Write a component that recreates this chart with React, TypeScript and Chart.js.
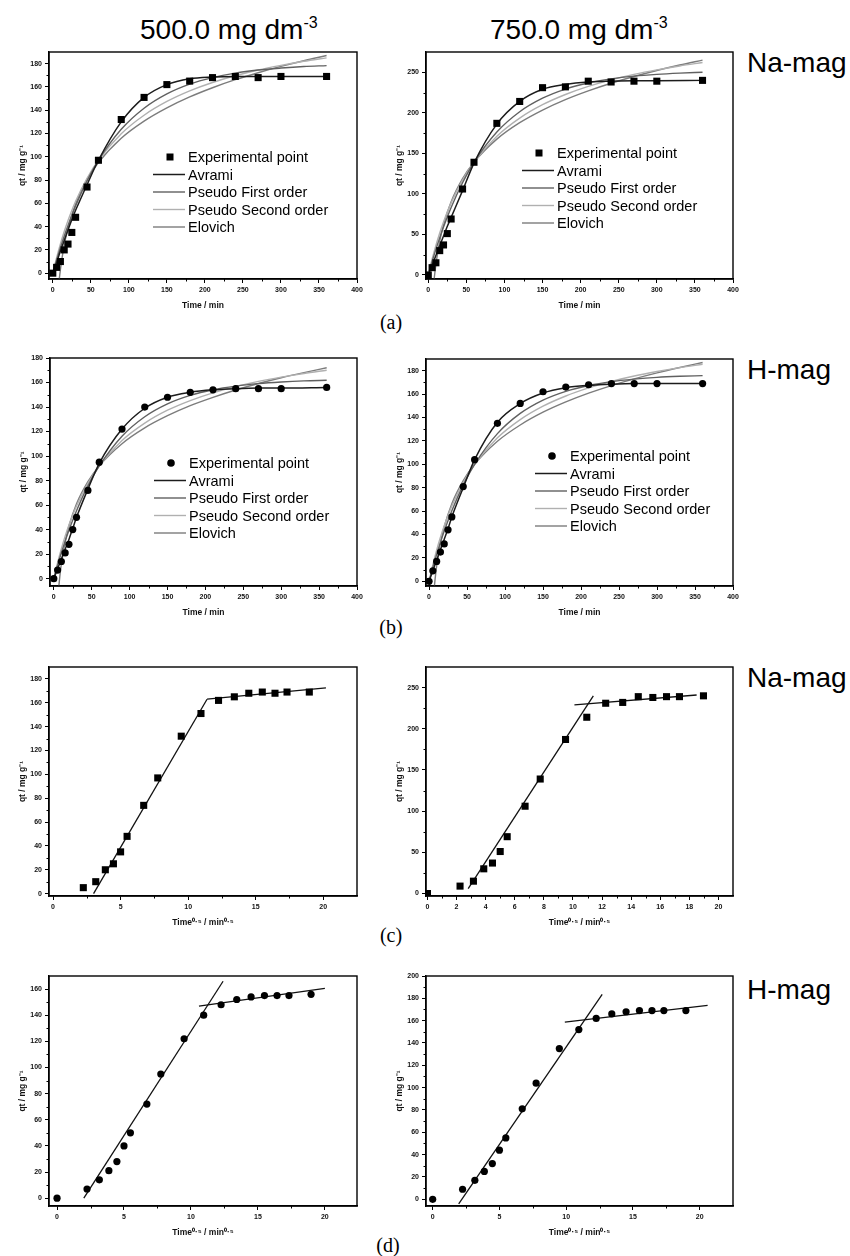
import React, { useEffect, useRef } from "react";
import { Chart, registerables } from "chart.js";

Chart.register(...registerables);

const SANS = '"Liberation Sans", Arial, Helvetica, sans-serif';
const SERIF = '"Liberation Serif", "Times New Roman", serif';

// ---------------- data ----------------
// contact time (min) and its square root (min^0.5)
const timeMin = [0, 5, 10, 15, 20, 25, 30, 45, 60, 90, 120, 150, 180, 210, 240, 270, 300, 360];
const sqrtTimeMin = [0, 2.24, 3.16, 3.87, 4.47, 5.0, 5.48, 6.71, 7.75, 9.49, 10.95, 12.25, 13.42, 14.49, 15.49, 16.43, 17.32, 18.97];

// experimental qt (mg g-1)
const expNa500 = [0, 5, 10, 20, 25, 35, 48, 74, 97, 132, 151, 162, 165, 168, 169, 168, 169, 169];
const expNa750 = [0, 9, 15, 30, 37, 51, 69, 106, 139, 187, 214, 231, 232, 239, 238, 239, 239, 240];
const expH500 = [0, 7, 14, 21, 28, 40, 50, 72, 95, 122, 140, 148, 152, 154, 155, 155, 155, 156];
const expH750 = [0, 9, 17, 25, 32, 44, 55, 81, 104, 135, 152, 162, 166, 168, 169, 169, 169, 169];

// model curves
const fitTime = [0, 5, 10, 15, 20, 30, 45, 60, 90, 120, 150, 180, 210, 240, 270, 300, 330, 360];
const elovichTime = [6.5, 8, 10, 15, 20, 30, 45, 60, 90, 120, 150, 180, 210, 240, 270, 300, 330, 360];

const avramiNa500 = [0, 9, 19, 28, 37, 46, 54, 76, 97, 130, 151, 162, 167, 168.5, 169, 169, 169, 169];
const pfoNa500 = [0, 11.2, 21.8, 31.7, 40.9, 57.8, 79.2, 97, 123.6, 141.7, 154, 162.4, 168, 171.9, 174.5, 176.2, 177.5, 178.3];
const psoNa500 = [0, 13.3, 25.2, 35.8, 45.3, 61.8, 81.5, 97, 119.8, 135.7, 147.5, 156.6, 163.8, 169.6, 174.5, 178.5, 182, 185];
const elovichNa500 = [-19, -8.3, 3.1, 24, 38.7, 59.5, 80.3, 95, 115.9, 130.6, 142, 151.4, 159.3, 166.2, 172.2, 177.6, 182.5, 187];

const avramiNa750 = [0, 12, 24, 36, 48, 60, 71, 104, 138, 186, 214, 229, 235, 238, 239, 239.5, 239.5, 240];
const pfoNa750 = [0, 16.3, 31.5, 45.7, 59.1, 83.2, 113.7, 139, 176.3, 201.3, 218, 229.3, 236.8, 241.8, 245.2, 247.4, 248.9, 250];
const psoNa750 = [0, 19.3, 36.4, 51.7, 65.4, 88.9, 117, 139, 171.1, 193.5, 210, 222.6, 232.6, 240.7, 247.4, 253, 257.8, 262];
const elovichNa750 = [-17.2, -2.6, 13.1, 41.6, 61.8, 90.3, 118.8, 139, 167.5, 187.8, 203.4, 216.3, 227.1, 236.5, 244.8, 252.2, 258.9, 265];

const avramiH500 = [0, 8, 16, 24, 32, 41, 50, 73, 94, 122, 139, 148, 152, 154, 155, 155.5, 155.5, 156];
const pfoH500 = [0, 10.9, 21.1, 30.6, 39.5, 55.4, 75.7, 92, 116.2, 132.1, 142.6, 149.5, 154.1, 157.1, 159.1, 160.4, 161.3, 161.8];
const psoH500 = [0, 13, 24.5, 34.7, 43.8, 59.3, 77.7, 92, 112.7, 126.9, 137.4, 145.3, 151.6, 156.7, 160.9, 164.4, 167.4, 170];
const elovichH500 = [-7.2, 2.0, 12, 30.1, 43, 61.1, 79.2, 92, 110.1, 123, 132.9, 141.1, 147.9, 153.9, 159.2, 163.9, 168.1, 172];

const avramiH750 = [0, 9, 18, 27, 36, 45, 55, 80, 104, 136, 152, 161, 165.5, 167.5, 168.5, 169, 169, 169];
const pfoH750 = [0, 11.9, 22.9, 33.3, 42.9, 60.3, 82.2, 100, 126.2, 143.5, 154.9, 162.4, 167.4, 170.7, 172.8, 174.3, 175.2, 175.8];
const psoH750 = [0, 14.1, 26.6, 37.6, 47.5, 64.4, 84.4, 100, 122.6, 138.2, 149.7, 158.4, 165.3, 170.9, 175.5, 179.3, 182.6, 185.5];
const elovichH750 = [-7.9, 2.1, 13, 32.7, 46.6, 66.3, 86, 100, 119.7, 133.6, 144.5, 153.3, 160.8, 167.3, 173, 178.1, 182.7, 187];

// intraparticle diffusion fits: [x0, x1] and [y0, y1]
const ipdNa500S1x = [3.0, 11.4];
const ipdNa500S1y = [0, 163];
const ipdNa500S2x = [11.4, 20.2];
const ipdNa500S2y = [163, 172.5];
const ipdNa750S1x = [2.8, 11.4];
const ipdNa750S1y = [6, 240];
const ipdNa750S2x = [10.1, 18.5];
const ipdNa750S2y = [229, 241];
const ipdH500S1x = [2.0, 12.4];
const ipdH500S1y = [0, 166];
const ipdH500S2x = [10.6, 20.0];
const ipdH500S2y = [147, 160.5];
const ipdH750S1x = [1.95, 12.7];
const ipdH750S1y = [-4, 183.5];
const ipdH750S2x = [9.9, 20.6];
const ipdH750S2y = [158.7, 173.6];

// tick labels
const timeTicks = [0, 50, 100, 150, 200, 250, 300, 350, 400];
const rootTicks5 = [0, 5, 10, 15, 20];
const rootTicks2 = [0, 2, 4, 6, 8, 10, 12, 14, 16, 18, 20];
const qTicks180 = [0, 20, 40, 60, 80, 100, 120, 140, 160, 180];
const qTicks250 = [0, 50, 100, 150, 200, 250];
const qTicks160 = [0, 20, 40, 60, 80, 100, 120, 140, 160];
const qTicks200 = [0, 20, 40, 60, 80, 100, 120, 140, 160, 180, 200];

const legendLabels = ["Experimental point", "Avrami", "Pseudo First order", "Pseudo Second order", "Elovich"];

// ---------------- styles ----------------
const C_AVR = "#1c1c1c";
const C_PFO = "#606060";
const C_PSO = "#b0b0b0";
const C_ELO = "#7c7c7c";

const YW = 31; // y-axis box width
const XH = 32; // x-axis box height
const PT = 8;
const PR = 14;
const PL = 2;

const pts = (xs: number[], ys: number[]) => xs.map((x, i) => ({ x, y: ys[i] }));

const expSet = (xs: number[], ys: number[], style: string) => ({
  label: legendLabels[0],
  data: pts(xs, ys),
  showLine: false,
  pointStyle: style,
  pointRadius: style === "rect" ? 5 : 3.6,
  pointBackgroundColor: "#000",
  pointBorderColor: "#000",
  pointBorderWidth: 0,
  backgroundColor: "#000",
  borderColor: "#000",
});

const curve = (label: string, xs: number[], ys: number[], color: string, width = 1.4) => ({
  label,
  data: pts(xs, ys),
  showLine: true,
  pointRadius: 0,
  borderColor: color,
  backgroundColor: color,
  borderWidth: width,
  cubicInterpolationMode: "monotone",
  fill: false,
});

const straight = (xs: number[], ys: number[]) => ({
  label: "",
  data: pts(xs, ys),
  showLine: true,
  pointRadius: 0,
  borderColor: "#111",
  backgroundColor: "#111",
  borderWidth: 1.3,
  tension: 0,
  fill: false,
});

const kineticSets = (exp: number[], style: string, avr: number[], pfo: number[], pso: number[], elo: number[]) => [
  expSet(timeMin, exp, style),
  curve(legendLabels[1], timeMin, avr, C_AVR, 1.5),
  curve(legendLabels[2], fitTime, pfo, C_PFO),
  curve(legendLabels[3], fitTime, pso, C_PSO),
  curve(legendLabels[4], elovichTime, elo, C_ELO),
];

type Spec = {
  key: string;
  frame: { l: number; t: number; r: number; b: number };
  x: [number, number];
  y: [number, number];
  xTicks: number[];
  yTicks: number[];
  xTitle: string;
  datasets: any[];
  legend?: { dx: number; dy: number };
};

const TIME_TITLE = "Time / min";
const ROOT_TITLE = "Time\u2070\u00B7\u2075 / min\u2070\u00B7\u2075";
const Q_TITLE = "qt / mg g\u207B\u00B9";

const panels: Spec[] = [
  {
    key: "a1",
    frame: { l: 49, t: 52, r: 357, b: 279 },
    x: [-5, 400], y: [-5, 190], xTicks: timeTicks, yTicks: qTicks180, xTitle: TIME_TITLE,
    datasets: kineticSets(expNa500, "rect", avramiNa500, pfoNa500, psoNa500, elovichNa500),
    legend: { dx: 104, dy: 105 },
  },
  {
    key: "a2",
    frame: { l: 426, t: 52, r: 733, b: 279 },
    x: [-3, 400], y: [-5, 275], xTicks: timeTicks, yTicks: qTicks250, xTitle: TIME_TITLE,
    datasets: kineticSets(expNa750, "rect", avramiNa750, pfoNa750, psoNa750, elovichNa750),
    legend: { dx: 96, dy: 101 },
  },
  {
    key: "b1",
    frame: { l: 50, t: 358, r: 357, b: 586 },
    x: [-5, 400], y: [-6, 180], xTicks: timeTicks, yTicks: qTicks180, xTitle: TIME_TITLE,
    datasets: kineticSets(expH500, "circle", avramiH500, pfoH500, psoH500, elovichH500),
    legend: { dx: 104, dy: 105 },
  },
  {
    key: "b2",
    frame: { l: 426, t: 359, r: 733, b: 586 },
    x: [-4, 400], y: [-4, 190], xTicks: timeTicks, yTicks: qTicks180, xTitle: TIME_TITLE,
    datasets: kineticSets(expH750, "circle", avramiH750, pfoH750, psoH750, elovichH750),
    legend: { dx: 109, dy: 97 },
  },
  {
    key: "c1",
    frame: { l: 49, t: 667, r: 357, b: 896 },
    x: [-0.3, 22.5], y: [-2, 190], xTicks: rootTicks5, yTicks: qTicks180, xTitle: ROOT_TITLE,
    datasets: [
      expSet(sqrtTimeMin.slice(1), expNa500.slice(1), "rect"),
      straight(ipdNa500S1x, ipdNa500S1y),
      straight(ipdNa500S2x, ipdNa500S2y),
    ],
  },
  {
    key: "c2",
    frame: { l: 426, t: 667, r: 733, b: 896 },
    x: [-0.1, 21], y: [-3, 275], xTicks: rootTicks2, yTicks: qTicks250, xTitle: ROOT_TITLE,
    datasets: [
      expSet(sqrtTimeMin, expNa750, "rect"),
      straight(ipdNa750S1x, ipdNa750S1y),
      straight(ipdNa750S2x, ipdNa750S2y),
    ],
  },
  {
    key: "d1",
    frame: { l: 49, t: 976, r: 357, b: 1206 },
    x: [-0.6, 22.4], y: [-6, 170], xTicks: rootTicks5, yTicks: qTicks160, xTitle: ROOT_TITLE,
    datasets: [
      expSet(sqrtTimeMin, expH500, "circle"),
      straight(ipdH500S1x, ipdH500S1y),
      straight(ipdH500S2x, ipdH500S2y),
    ],
  },
  {
    key: "d2",
    frame: { l: 426, t: 976, r: 733, b: 1206 },
    x: [-0.5, 22.5], y: [-6, 200], xTicks: rootTicks5, yTicks: qTicks200, xTitle: ROOT_TITLE,
    datasets: [
      expSet(sqrtTimeMin, expH750, "circle"),
      straight(ipdH750S1x, ipdH750S1y),
      straight(ipdH750S2x, ipdH750S2y),
    ],
  },
];

// ---------------- plugins ----------------
const framePlugin = {
  id: "frameMinor",
  afterDraw(chart: any) {
    const { ctx, chartArea: a, scales } = chart;
    ctx.save();
    ctx.strokeStyle = "#000";
    ctx.lineWidth = 1.4;
    ctx.strokeRect(a.left, a.top, a.right - a.left, a.bottom - a.top);
    ctx.lineWidth = 1;
    const xs = scales.x;
    const ys = scales.y;
    const xt = xs.ticks.map((t: any) => t.value);
    const yt = ys.ticks.map((t: any) => t.value);
    for (let i = 0; i < xt.length - 1; i++) {
      const v = (xt[i] + xt[i + 1]) / 2;
      const px = Math.round(xs.getPixelForValue(v)) + 0.5;
      ctx.beginPath();
      ctx.moveTo(px, a.bottom);
      ctx.lineTo(px, a.bottom + 2.5);
      ctx.stroke();
    }
    for (let i = 0; i < yt.length - 1; i++) {
      const v = (yt[i] + yt[i + 1]) / 2;
      const py = Math.round(ys.getPixelForValue(v)) + 0.5;
      ctx.beginPath();
      ctx.moveTo(a.left, py);
      ctx.lineTo(a.left - 2.5, py);
      ctx.stroke();
    }
    ctx.restore();
  },
};

const legendPlugin = {
  id: "insideLegend",
  afterDatasetsDraw(chart: any, _args: any, opts: any) {
    if (!opts || !opts.show) return;
    const { ctx, chartArea: a } = chart;
    const x0 = a.left + opts.dx;
    const y0 = a.top + opts.dy;
    const rowH = 17.5;
    ctx.save();
    ctx.font = `14.5px ${SANS}`;
    ctx.textBaseline = "middle";
    ctx.textAlign = "left";
    ctx.fillStyle = "#000";
    chart.data.datasets.forEach((ds: any, i: number) => {
      if (!ds.label) return;
      const y = y0 + i * rowH;
      if (ds.showLine) {
        ctx.strokeStyle = ds.borderColor;
        ctx.lineWidth = ds.borderWidth;
        ctx.beginPath();
        ctx.moveTo(x0, y);
        ctx.lineTo(x0 + 32, y);
        ctx.stroke();
      } else {
        ctx.fillStyle = "#000";
        const cx = x0 + 17;
        if (ds.pointStyle === "rect") {
          ctx.fillRect(cx - 3.5, y - 3.5, 7, 7);
        } else {
          ctx.beginPath();
          ctx.arc(cx, y, 3.8, 0, Math.PI * 2);
          ctx.fill();
        }
      }
      ctx.fillStyle = "#000";
      ctx.fillText(ds.label, x0 + 35, y + 1);
    });
    ctx.restore();
  },
};

// ---------------- components ----------------
function Panel({ spec }: { spec: Spec }) {
  const ref = useRef<HTMLCanvasElement>(null);
  const { l, t, r, b } = spec.frame;
  const w = r - l + YW + PL + PR;
  const h = b - t + PT + XH;

  useEffect(() => {
    const canvas = ref.current;
    if (!canvas) return;
    const tickFont = { family: SANS, size: 7, weight: "bold" as const };
    const titleFont = { family: SANS, size: 8.5, weight: "bold" as const };
    const chart = new Chart(canvas, {
      type: "scatter",
      data: { datasets: spec.datasets as any },
      plugins: [framePlugin, legendPlugin],
      options: {
        responsive: false,
        animation: false,
        devicePixelRatio: 1,
        events: [],
        layout: { padding: { left: PL, top: PT, right: PR, bottom: 0 } },
        plugins: {
          legend: { display: false },
          tooltip: { enabled: false },
          insideLegend: spec.legend ? { show: true, dx: spec.legend.dx, dy: spec.legend.dy } : { show: false },
        } as any,
        scales: {
          x: {
            type: "linear",
            min: spec.x[0],
            max: spec.x[1],
            afterBuildTicks: (s: any) => {
              s.ticks = spec.xTicks.map((v) => ({ value: v }));
            },
            afterFit: (s: any) => {
              s.height = XH;
            },
            grid: { display: true, drawOnChartArea: false, drawTicks: true, tickLength: 4, tickColor: "#000", tickWidth: 1, color: "#000" },
            border: { display: true, color: "#000", width: 1.4 },
            ticks: { font: tickFont, color: "#111", padding: 3, maxRotation: 0, autoSkip: false },
            title: { display: true, text: spec.xTitle, font: titleFont, color: "#111", padding: 0 },
          },
          y: {
            type: "linear",
            min: spec.y[0],
            max: spec.y[1],
            afterBuildTicks: (s: any) => {
              s.ticks = spec.yTicks.map((v) => ({ value: v }));
            },
            afterFit: (s: any) => {
              s.width = YW;
            },
            grid: { display: true, drawOnChartArea: false, drawTicks: true, tickLength: 4, tickColor: "#000", tickWidth: 1, color: "#000" },
            border: { display: true, color: "#000", width: 1.4 },
            ticks: { font: tickFont, color: "#111", padding: 3, autoSkip: false },
            title: { display: true, text: Q_TITLE, font: titleFont, color: "#111", padding: 0 },
          },
        },
      } as any,
    });
    return () => chart.destroy();
  }, [spec]);

  return (
    <canvas
      ref={ref}
      width={w}
      height={h}
      style={{ position: "absolute", left: l - YW - PL, top: t - PT, width: w, height: h }}
    />
  );
}

const bigText: React.CSSProperties = {
  position: "absolute",
  fontFamily: SANS,
  fontSize: 28,
  lineHeight: "28px",
  color: "#000",
  whiteSpace: "nowrap",
};

const capText: React.CSSProperties = {
  position: "absolute",
  fontFamily: SERIF,
  fontSize: 20,
  lineHeight: "20px",
  color: "#000",
  width: 40,
  textAlign: "center",
};

function Conc({ value, left }: { value: string; left: number }) {
  return (
    <div style={{ ...bigText, left, top: 16 }}>
      {value} mg dm
      <span style={{ fontSize: 16, position: "relative", top: -11 }}>-3</span>
    </div>
  );
}

export default function App() {
  return (
    <div style={{ position: "absolute", left: 0, top: 0, width: 850, height: 1256, background: "#fff", overflow: "hidden" }}>
      <Conc value="500.0" left={140} />
      <Conc value="750.0" left={490} />
      <div style={{ ...bigText, left: 747, top: 49 }}>Na-mag</div>
      <div style={{ ...bigText, left: 747, top: 356 }}>H-mag</div>
      <div style={{ ...bigText, left: 747, top: 664 }}>Na-mag</div>
      <div style={{ ...bigText, left: 747, top: 976 }}>H-mag</div>
      <div style={{ ...capText, left: 371, top: 312 }}>(a)</div>
      <div style={{ ...capText, left: 371, top: 617 }}>(b)</div>
      <div style={{ ...capText, left: 371, top: 925 }}>(c)</div>
      <div style={{ ...capText, left: 368, top: 1235 }}>(d)</div>
      {panels.map((p) => (
        <Panel key={p.key} spec={p} />
      ))}
    </div>
  );
}
